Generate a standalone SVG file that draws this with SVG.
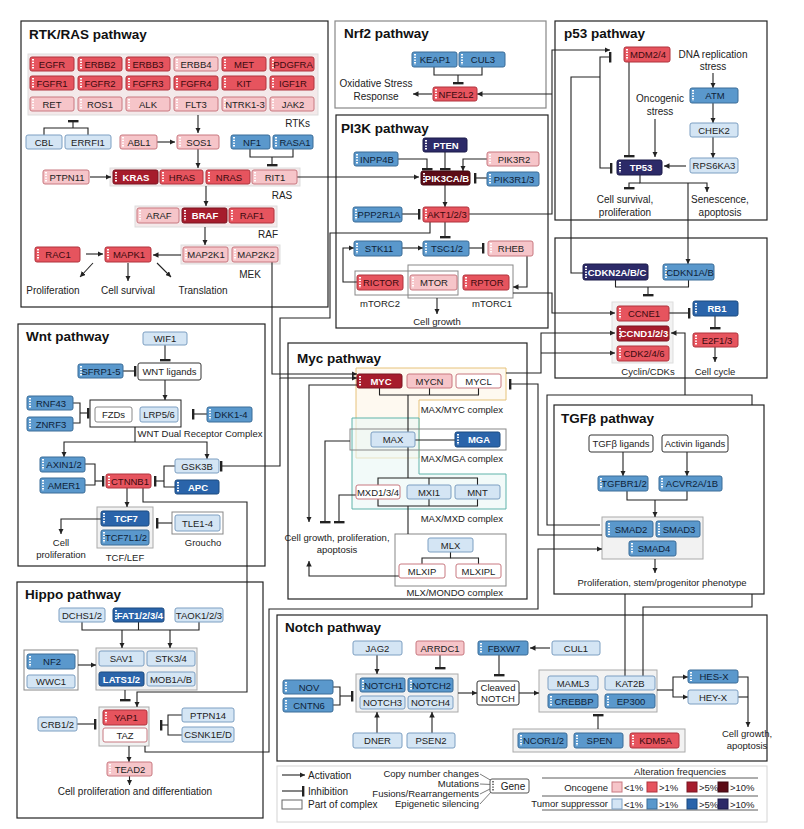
<svg xmlns="http://www.w3.org/2000/svg" width="804" height="829" viewBox="0 0 804 829">
<defs>
<style>
text{font-family:"Liberation Sans",Arial,sans-serif;font-size:9.5px;fill:#222;text-anchor:middle}
.t{font-size:13.5px;font-weight:bold;text-anchor:start;fill:#111}
.l{font-size:10px}
.st{text-anchor:start}
.en{text-anchor:end}
.pn{fill:#fff;stroke:#222;stroke-width:1.2}
.g rect{rx:2px}
.o1 rect{fill:#f6c5c9;stroke:#c87880}
.o2 rect{fill:#e6545e;stroke:#b0333c}
.o2 text{fill:#3b0a0e}
.o3 rect{fill:#a61c2c;stroke:#7a1420}
.o4 rect{fill:#5c0b16;stroke:#3e0810}
.o3 text,.o4 text,.t3 text,.t4 text{fill:#fff;font-weight:bold}
.t1 rect{fill:#d4e5f4;stroke:#7d9fc2}
.t2 rect{fill:#5a98cc;stroke:#3a6c98}
.t2 text{fill:#0e2238}
.t3 rect{fill:#2a64aa;stroke:#1b4a80}
.t4 rect{fill:#2c2a68;stroke:#1b1a48}
.w rect{fill:#fff;stroke:#c87880}
.c rect{fill:#fff;stroke:#333}
.s{stroke:#fff;stroke-width:2;stroke-dasharray:1.4 1.3;fill:none}
.cn path{fill:none;stroke:#222;stroke-width:1.1}
.a{marker-end:url(#ar)}
.i{marker-end:url(#br)}
.bx{fill:#f2f2f2;stroke:#aaa}
.bg{fill:#f4e9ea;stroke:#ddd}
.ol{fill:none;stroke:#888}
</style>
<marker id="ar" viewBox="0 0 10 10" refX="10" refY="5" markerWidth="5.5" markerHeight="5.5" markerUnits="userSpaceOnUse" orient="auto"><path d="M0,0L10,5L0,10z" fill="#222"/></marker>
<marker id="br" viewBox="0 0 3 12" refX="1.5" refY="6" markerWidth="3" markerHeight="11" markerUnits="userSpaceOnUse" orient="auto"><rect width="3" height="12" fill="#222"/></marker>
</defs>
<rect width="804" height="829" fill="#fff"/>

<g id="panels">
<rect class="pn" x="21" y="21" width="307" height="286"/>
<rect class="pn" x="335" y="21" width="211" height="87" style="stroke:#888"/>
<rect class="pn" x="336" y="115" width="212" height="213"/>
<rect class="pn" x="555" y="21" width="212" height="199"/>
<rect class="pn" x="555" y="238" width="212" height="140"/>
<rect class="pn" x="18" y="324" width="247" height="242"/>
<rect class="pn" x="288" y="343" width="239" height="256"/>
<rect class="pn" x="554" y="405" width="210" height="189"/>
<rect class="pn" x="17" y="582" width="246" height="236"/>
<rect class="pn" x="277" y="615" width="490" height="146"/>
<rect x="277" y="766" width="490" height="56" fill="none" stroke="#d4d4d4"/>
<text class="t" x="29" y="39">RTK/RAS pathway</text>
<text class="t" x="344" y="38">Nrf2 pathway</text>
<text class="t" x="341" y="133">PI3K pathway</text>
<text class="t" x="564" y="38">p53 pathway</text>
<text class="t" x="26" y="341">Wnt pathway</text>
<text class="t" x="297" y="363">Myc pathway</text>
<text class="t" x="561" y="423">TGFβ pathway</text>
<text class="t" x="25" y="599">Hippo pathway</text>
<text class="t" x="285" y="632">Notch pathway</text>
</g>

<g id="complexes">
<rect class="bg" x="28" y="54" width="290" height="61"/>
<rect class="bg" x="110" y="168" width="190" height="18"/>
<rect class="bg" x="135" y="206" width="142" height="21"/>
<rect class="bg" x="181" y="245" width="99" height="19"/>
<rect class="ol" x="355" y="271" width="103" height="24"/>
<rect class="ol" x="408" y="265" width="105" height="33"/>
<rect class="bx" x="612" y="302" width="61" height="61" style="stroke:#ddd"/>
<rect x="90" y="400" width="91" height="27" fill="none" stroke="#222"/>
<rect class="bx" x="97" y="507" width="56" height="41"/>
<rect class="ol" x="172" y="512" width="51" height="22"/>
<path d="M356,368H506V400H419V458H356Z" fill="#fdf5e6" fill-opacity="0.6" stroke="#e6c27a"/>
<path d="M352,418H419V474H506V509H352Z" fill="#eaf6f5" fill-opacity="0.6" stroke="#5fb3aa"/>
<rect class="ol" x="350" y="429" width="156" height="21"/>
<rect class="ol" x="395" y="534" width="111" height="52"/>
<rect class="bx" x="602" y="517" width="101" height="42"/>
<rect class="ol" x="24" y="650" width="54" height="40"/>
<rect class="bx" x="96" y="648" width="101" height="42"/>
<rect class="bx" x="99" y="707" width="50" height="39"/>
<rect class="bx" x="356" y="674" width="102" height="38"/>
<rect class="bx" x="539" y="670" width="118" height="42"/>
<rect class="bx" x="513" y="729" width="172" height="23"/>
</g>

<g id="connectors" class="cn">
<path d="M44,135V128H88V135"/><path class="i" d="M73,128V121"/>
<path class="a" d="M198,115V133"/>
<path class="a" d="M157,142H175"/>
<path d="M250,149V157H293V149"/><path class="i" d="M272,157V165"/>
<path class="a" d="M198,149V168"/>
<path class="a" d="M90,177H111"/>
<path class="a" d="M206,186V206"/>
<path class="a" d="M205,227V245"/>
<path class="a" d="M181,255H153"/>
<path class="a" d="M86,254H103"/>
<path class="a" d="M93,263L80,277"/><path class="a" d="M128,263V281"/><path class="a" d="M157,263L171,277"/>
<path class="a" d="M297,177H419"/>
<path d="M434,67V75H482V67"/><path class="i" d="M458,75V83"/>
<path class="a" d="M432,94H413"/>
<path class="i" d="M398,159H427V169"/>
<path class="i" d="M445,152V169"/>
<path class="a" d="M487,159H463V171"/>
<path class="i" d="M487,178H475"/>
<path class="a" d="M445,185V207"/>
<path class="i" d="M402,214H419"/>
<path class="i" d="M445,222V237"/>
<path class="a" d="M402,248H423"/>
<path class="i" d="M469,248H483"/>
<path class="a" d="M527,256V287H513"/>
<path class="a" d="M357,282H343V248H354"/>
<path class="a" d="M437,298V314"/>
<path class="a" d="M469,214H552V50H610"/>
<path class="a" d="M552,94H477"/>
<path class="a" d="M430,222V233H330V318H280V378H357"/>
<path class="i" d="M280,378V466H221"/>
<path class="a" d="M272,262V374H357"/>
<path class="a" d="M713,73V88"/>
<path class="a" d="M713,103V123"/>
<path class="a" d="M713,137V158"/>
<path class="a" d="M655,119V157"/>
<path class="i" d="M629,62V156"/>
<path class="a" d="M686,166H664"/>
<path d="M583,273H571V77H600"/>
<path class="i" d="M600,77V57H610"/>
<path class="i" d="M600,77V168H611"/>
<path class="a" d="M640,175V183H707V192"/>
<path class="i" d="M640,183H629V188"/>
<path class="a" d="M688,183V264"/>
<path d="M615.5,280V287H688.5V280"/><path class="i" d="M648,287V295"/>
<path class="i" d="M669,313H689"/>
<path class="i" d="M715,316V328"/>
<path class="a" d="M715,347V362"/>
<path class="a" d="M513,293H552V313H615"/>
<path class="a" d="M506,373H541V333H615"/>
<path class="a" d="M541,353H615"/>
<path class="a" d="M685,395V333H671"/>
<path class="i" d="M165,345V360"/>
<path class="i" d="M123,371H135"/>
<path class="a" d="M165,380V400"/>
<path d="M73,403H80V423H73"/><path class="i" d="M80,413H88"/>
<path class="i" d="M207,414H193"/>
<path d="M135,427V442"/><path class="a" d="M135,442H64V457"/><path class="a" d="M135,442H207V459"/>
<path d="M85,464H95V485H85"/><path class="i" d="M95,481H103"/>
<path d="M175,466H164V487H175"/><path class="i" d="M164,481H155"/>
<path class="a" d="M127,488V507"/>
<path class="i" d="M172,523H157"/>
<path class="a" d="M101,519H61V534"/>
<path class="a" d="M143,488V502H247V692H137V707"/>
<path d="M379.5,388V395H478.5V388"/><path d="M429.5,388V395"/><path d="M408,395V432"/>
<path d="M408,447V478"/><path d="M378,485V478H477.5V485"/><path d="M429,478V485"/>
<path d="M378,499V506H477.5V499"/><path d="M429,499V506"/><path d="M408,506V534"/>
<path d="M450.5,552V558H422V564"/><path d="M450.5,558H478.5V564"/>
<path d="M415,440H455"/>
<path class="a" d="M357,385H309V522"/>
<path class="i" d="M350,441H325V522"/>
<path class="i" d="M356,495H339V522"/>
<path class="a" d="M399,576H309V561"/>
<path class="i" d="M602,535H538V384H510"/>
<path class="a" d="M145,746V752H269V609H538V549H602"/>
<path d="M600,525H547V395H752V405"/>
<path d="M643,676V607H752V594"/>
<path d="M625,676V594"/>
<path d="M82,622V630H199V622"/><path d="M138.5,622V630"/>
<path class="a" d="M122,630V648"/><path class="a" d="M170,630V648"/>
<path class="a" d="M78,665H96"/>
<path class="i" d="M125,690V700"/>
<path class="i" d="M77,724H95"/>
<path d="M182,715H168V735H182"/><path class="i" d="M168,725H161"/>
<path class="a" d="M129,746V762"/>
<path class="a" d="M129.5,776V785"/>
<path class="a" d="M623,452V476"/><path class="a" d="M687,452V476"/>
<path d="M627,491V500H687V491"/><path class="a" d="M655,500V517"/>
<path class="a" d="M655,559V573"/>
<path class="a" d="M550,648H530"/>
<path class="a" d="M377,655V674"/>
<path class="i" d="M440,655V668"/>
<path class="i" d="M499,655V675"/>
<path d="M333,687H340V705H333"/><path class="i" d="M340,696H352"/>
<path class="a" d="M377,733V712"/><path class="a" d="M432,733V712"/>
<path class="a" d="M458,693H477"/>
<path class="a" d="M519,693H539"/>
<path d="M657,690H673"/><path class="a" d="M673,690V677H688"/><path class="a" d="M673,690V697H688"/>
<path class="a" d="M738,677H748V727"/><path d="M738,697H748"/>
<path class="i" d="M598,729V715"/>
</g>

<g id="labels">
<text class="l en" x="310" y="127">RTKs</text>
<text class="l" x="282" y="199">RAS</text>
<text class="l" x="268" y="238">RAF</text>
<text class="l" x="250" y="278">MEK</text>
<text class="l" x="53" y="294">Proliferation</text>
<text class="l" x="128" y="294">Cell survival</text>
<text class="l" x="203" y="294">Translation</text>
<text class="l" x="376" y="87">Oxidative Stress</text>
<text class="l" x="376" y="100">Response</text>
<text x="380" y="307">mTORC2</text>
<text x="492" y="307">mTORC1</text>
<text x="437" y="325">Cell growth</text>
<text class="l" x="713" y="58">DNA replication</text>
<text class="l" x="713" y="70">stress</text>
<text class="l" x="660" y="102">Oncogenic</text>
<text class="l" x="660" y="115">stress</text>
<text class="l" x="625" y="203">Cell survival,</text>
<text class="l" x="625" y="216">proliferation</text>
<text class="l" x="720" y="203">Senescence,</text>
<text class="l" x="720" y="216">apoptosis</text>
<text x="648" y="375">Cyclin/CDKs</text>
<text x="715" y="375">Cell cycle</text>
<text x="200" y="437">WNT Dual Receptor Complex</text>
<text x="125" y="561">TCF/LEF</text>
<text x="203" y="546">Groucho</text>
<text x="61" y="546">Cell</text>
<text x="61" y="558">proliferation</text>
<text class="en" x="503" y="413">MAX/MYC complex</text>
<text class="en" x="503" y="462">MAX/MGA complex</text>
<text class="en" x="503" y="522">MAX/MXD complex</text>
<text class="en" x="503" y="596">MLX/MONDO complex</text>
<text x="337" y="541">Cell growth, proliferation,</text>
<text x="337" y="553">apoptosis</text>
<text x="662" y="586">Proliferation, stem/progenitor phenotype</text>
<text class="l" x="135" y="795">Cell proliferation and differentiation</text>
<text x="747" y="737">Cell growth,</text>
<text x="747" y="749">apoptosis</text>
</g>

<g id="n-EGFR" class="g o2"><rect x="30" y="57" width="44" height="14"/><path class="s" d="M33,59v10"/><text x="52" y="67.5">EGFR</text></g>
<g id="n-ERBB2" class="g o2"><rect x="78" y="57" width="44" height="14"/><path class="s" d="M81,59v10"/><text x="100" y="67.5">ERBB2</text></g>
<g id="n-ERBB3" class="g o2"><rect x="126" y="57" width="44" height="14"/><path class="s" d="M129,59v10"/><text x="148" y="67.5">ERBB3</text></g>
<g id="n-ERBB4" class="g o1"><rect x="174" y="57" width="44" height="14"/><path class="s" d="M177,59v10"/><text x="196" y="67.5">ERBB4</text></g>
<g id="n-MET" class="g o2"><rect x="222" y="57" width="44" height="14"/><path class="s" d="M225,59v10"/><text x="244" y="67.5">MET</text></g>
<g id="n-PDGFRA" class="g o2"><rect x="270" y="57" width="44" height="14"/><path class="s" d="M273,59v10"/><text x="293" y="67.5">PDGFRA</text></g>
<g id="n-FGFR1" class="g o2"><rect x="30" y="76" width="44" height="14"/><path class="s" d="M33,78v10"/><text x="52" y="86.5">FGFR1</text></g>
<g id="n-FGFR2" class="g o2"><rect x="78" y="76" width="44" height="14"/><path class="s" d="M81,78v10"/><text x="100" y="86.5">FGFR2</text></g>
<g id="n-FGFR3" class="g o2"><rect x="126" y="76" width="44" height="14"/><path class="s" d="M129,78v10"/><text x="148" y="86.5">FGFR3</text></g>
<g id="n-FGFR4" class="g o2"><rect x="174" y="76" width="44" height="14"/><path class="s" d="M177,78v10"/><text x="196" y="86.5">FGFR4</text></g>
<g id="n-KIT" class="g o2"><rect x="222" y="76" width="44" height="14"/><path class="s" d="M225,78v10"/><text x="244" y="86.5">KIT</text></g>
<g id="n-IGF1R" class="g o2"><rect x="270" y="76" width="44" height="14"/><path class="s" d="M273,78v10"/><text x="293" y="86.5">IGF1R</text></g>
<g id="n-RET" class="g o1"><rect x="30" y="97" width="44" height="14"/><path class="s" d="M33,99v10"/><text x="52" y="107.5">RET</text></g>
<g id="n-ROS1" class="g o1"><rect x="78" y="97" width="44" height="14"/><path class="s" d="M81,99v10"/><text x="100" y="107.5">ROS1</text></g>
<g id="n-ALK" class="g o1"><rect x="126" y="97" width="44" height="14"/><path class="s" d="M129,99v10"/><text x="148" y="107.5">ALK</text></g>
<g id="n-FLT3" class="g o1"><rect x="174" y="97" width="44" height="14"/><path class="s" d="M177,99v10"/><text x="196" y="107.5">FLT3</text></g>
<g id="n-NTRK" class="g o1"><rect x="222" y="97" width="44" height="14"/><path class="s" d="M225,99v10"/><text x="245" y="107.5">NTRK1-3</text></g>
<g id="n-JAK2" class="g o1"><rect x="270" y="97" width="44" height="14"/><path class="s" d="M273,99v10"/><text x="293" y="107.5">JAK2</text></g>
<g id="n-CBL" class="g t1"><rect x="26" y="135" width="36" height="14"/><text x="44" y="145.5">CBL</text></g>
<g id="n-ERRFI1" class="g t1"><rect x="65" y="135" width="46" height="14"/><text x="88" y="145.5">ERRFI1</text></g>
<g id="n-ABL1" class="g o1"><rect x="120" y="135" width="37" height="14"/><path class="s" d="M123,137v10"/><text x="139" y="145.5">ABL1</text></g>
<g id="n-SOS1" class="g o1"><rect x="177" y="135" width="42" height="14"/><path class="s" d="M180,137v10"/><text x="199" y="145.5">SOS1</text></g>
<g id="n-NF1" class="g t2"><rect x="231" y="135" width="39" height="14"/><path class="s" d="M234,137v10"/><text x="252" y="145.5">NF1</text></g>
<g id="n-RASA1" class="g t2"><rect x="273" y="135" width="40" height="14"/><path class="s" d="M276,137v10"/><text x="295" y="145.5">RASA1</text></g>
<g id="n-PTPN11" class="g o1"><rect x="43" y="170" width="46" height="14"/><path class="s" d="M46,172v10"/><text x="67" y="180.5">PTPN11</text></g>
<g id="n-KRAS" class="g o3"><rect x="113" y="170" width="45" height="14"/><path class="s" d="M116,172v10"/><text x="136" y="180.5">KRAS</text></g>
<g id="n-HRAS" class="g o2"><rect x="160" y="170" width="43" height="14"/><path class="s" d="M163,172v10"/><text x="182" y="180.5">HRAS</text></g>
<g id="n-NRAS" class="g o2"><rect x="206" y="170" width="44" height="14"/><path class="s" d="M209,172v10"/><text x="229" y="180.5">NRAS</text></g>
<g id="n-RIT1" class="g o1"><rect x="252" y="170" width="45" height="14"/><path class="s" d="M255,172v10"/><text x="275" y="180.5">RIT1</text></g>
<g id="n-ARAF" class="g o1"><rect x="137" y="208" width="42" height="15"/><path class="s" d="M140,210v11"/><text x="159" y="219">ARAF</text></g>
<g id="n-BRAF" class="g o3"><rect x="182" y="208" width="45" height="15"/><path class="s" d="M185,210v11"/><text x="205" y="219">BRAF</text></g>
<g id="n-RAF1" class="g o2"><rect x="229" y="208" width="45" height="15"/><path class="s" d="M232,210v11"/><text x="252" y="219">RAF1</text></g>
<g id="n-MAP2K1" class="g o1"><rect x="183" y="247" width="45" height="15"/><path class="s" d="M186,249v11"/><text x="206" y="258">MAP2K1</text></g>
<g id="n-MAP2K2" class="g o1"><rect x="232" y="247" width="46" height="15"/><path class="s" d="M235,249v11"/><text x="256" y="258">MAP2K2</text></g>
<g id="n-MAPK1" class="g o2"><rect x="105" y="247" width="46" height="15"/><path class="s" d="M108,249v11"/><text x="129" y="258">MAPK1</text></g>
<g id="n-RAC1" class="g o2"><rect x="35" y="247" width="45" height="15"/><path class="s" d="M38,249v11"/><text x="58" y="258">RAC1</text></g>

<g id="n-KEAP1" class="g t2"><rect x="412" y="52" width="45" height="15"/><path class="s" d="M415,54v11"/><text x="435" y="63">KEAP1</text></g>
<g id="n-CUL3" class="g t2"><rect x="459" y="52" width="46" height="15"/><path class="s" d="M462,54v11"/><text x="483" y="63">CUL3</text></g>
<g id="n-NFE2L2" class="g o2"><rect x="433" y="87" width="44" height="14"/><path class="s" d="M436,89v10"/><text x="456" y="97.5">NFE2L2</text></g>

<g id="n-PTEN" class="g t4"><rect x="423" y="138" width="44" height="14"/><path class="s" d="M426,140v10"/><text x="446" y="148.5">PTEN</text></g>
<g id="n-INPP4B" class="g t2"><rect x="354" y="152" width="44" height="14"/><path class="s" d="M357,154v10"/><text x="377" y="162.5">INPP4B</text></g>
<g id="n-PIK3R2" class="g o1"><rect x="487" y="152" width="52" height="14"/><path class="s" d="M490,154v10"/><text x="514" y="162.5">PIK3R2</text></g>
<g id="n-PIK3CA" class="g o4"><rect x="421" y="171" width="49" height="14"/><path class="s" d="M424,173v10"/><text x="447" y="181.5">PIK3CA/B</text></g>
<g id="n-PIK3R1" class="g t2"><rect x="487" y="172" width="52" height="14"/><path class="s" d="M490,174v10"/><text x="514" y="182.5">PIK3R1/3</text></g>
<g id="n-PPP2R1A" class="g t2"><rect x="353" y="207" width="49" height="15"/><path class="s" d="M356,209v11"/><text x="379" y="218">PPP2R1A</text></g>
<g id="n-AKT" class="g o2"><rect x="423" y="207" width="46" height="15"/><path class="s" d="M426,209v11"/><text x="447" y="218">AKT1/2/3</text></g>
<g id="n-STK11" class="g t2"><rect x="354" y="241" width="48" height="15"/><path class="s" d="M357,243v11"/><text x="379" y="252">STK11</text></g>
<g id="n-TSC" class="g t2"><rect x="423" y="241" width="46" height="15"/><path class="s" d="M426,243v11"/><text x="447" y="252">TSC1/2</text></g>
<g id="n-RHEB" class="g o1"><rect x="488" y="241" width="45" height="15"/><path class="s" d="M491,243v11"/><text x="511" y="252">RHEB</text></g>
<g id="n-RICTOR" class="g o2"><rect x="357" y="275" width="46" height="15"/><path class="s" d="M360,277v11"/><text x="381" y="286">RICTOR</text></g>
<g id="n-MTOR" class="g o1"><rect x="410" y="275" width="47" height="15"/><path class="s" d="M413,277v11"/><text x="434" y="286">MTOR</text></g>
<g id="n-RPTOR" class="g o2"><rect x="463" y="275" width="46" height="15"/><path class="s" d="M466,277v11"/><text x="487" y="286">RPTOR</text></g>

<g id="n-MDM2" class="g o2"><rect x="624" y="47" width="46" height="15"/><path class="s" d="M627,49v11"/><text x="648" y="58">MDM2/4</text></g>
<g id="n-ATM" class="g t2"><rect x="690" y="88" width="48" height="15"/><path class="s" d="M693,90v11"/><text x="715" y="99">ATM</text></g>
<g id="n-CHEK2" class="g t1"><rect x="690" y="123" width="48" height="14"/><text x="714" y="133.5">CHEK2</text></g>
<g id="n-RPS6KA3" class="g t1"><rect x="690" y="158" width="48" height="15"/><text x="714" y="169">RPS6KA3</text></g>
<g id="n-TP53" class="g t4"><rect x="617" y="160" width="45" height="15"/><path class="s" d="M620,162v11"/><text x="641" y="171">TP53</text></g>

<g id="n-CDKN2A" class="g t4"><rect x="583" y="264" width="65" height="16"/><path class="s" d="M586,266v12"/><text x="617" y="275.5">CDKN2A/B/C</text></g>
<g id="n-CDKN1A" class="g t2"><rect x="663" y="264" width="51" height="16"/><path class="s" d="M666,266v12"/><text x="690" y="275.5">CDKN1A/B</text></g>
<g id="n-CCNE1" class="g o2"><rect x="617" y="306" width="52" height="15"/><path class="s" d="M620,308v11"/><text x="644" y="317">CCNE1</text></g>
<g id="n-CCND1" class="g o3"><rect x="617" y="326" width="52" height="15"/><path class="s" d="M620,328v11"/><text x="644" y="337">CCND1/2/3</text></g>
<g id="n-CDK" class="g o2"><rect x="617" y="346" width="52" height="15"/><path class="s" d="M620,348v11"/><text x="644" y="357">CDK2/4/6</text></g>
<g id="n-RB1" class="g t3"><rect x="693" y="301" width="45" height="15"/><path class="s" d="M696,303v11"/><text x="717" y="312">RB1</text></g>
<g id="n-E2F" class="g o2"><rect x="693" y="333" width="45" height="14"/><path class="s" d="M696,335v10"/><text x="717" y="343.5">E2F1/3</text></g>

<g id="n-WIF1" class="g t1"><rect x="143" y="332" width="44" height="13"/><text x="165" y="342">WIF1</text></g>
<g id="n-WNT" class="g c"><rect x="138" y="363" width="63" height="17"/><text x="169.5" y="375">WNT ligands</text></g>
<g id="n-SFRP" class="g t2"><rect x="78" y="364" width="45" height="14"/><path class="s" d="M81,366v10"/><text x="101" y="374.5">SFRP1-5</text></g>
<g id="n-FZD" class="g c"><rect x="95" y="407" width="37" height="15" style="stroke:#888"/><text x="113.5" y="418">FZDs</text></g>
<g id="n-LRP" class="g t1"><rect x="140" y="407" width="38" height="15"/><text x="159" y="418">LRP5/6</text></g>
<g id="n-RNF43" class="g t2"><rect x="27" y="396" width="46" height="14"/><path class="s" d="M30,398v10"/><text x="51" y="406.5">RNF43</text></g>
<g id="n-ZNRF3" class="g t2"><rect x="27" y="417" width="46" height="14"/><path class="s" d="M30,419v10"/><text x="51" y="427.5">ZNRF3</text></g>
<g id="n-DKK" class="g t2"><rect x="207" y="407" width="45" height="15"/><path class="s" d="M210,409v11"/><text x="231" y="418">DKK1-4</text></g>
<g id="n-AXIN" class="g t2"><rect x="40" y="457" width="45" height="15"/><path class="s" d="M43,459v11"/><text x="64" y="468">AXIN1/2</text></g>
<g id="n-AMER1" class="g t2"><rect x="40" y="478" width="45" height="15"/><path class="s" d="M43,480v11"/><text x="64" y="489">AMER1</text></g>
<g id="n-CTNNB1" class="g o2"><rect x="106" y="474" width="45" height="14"/><path class="s" d="M109,476v10"/><text x="130" y="484.5">CTNNB1</text></g>
<g id="n-GSK3B" class="g t1"><rect x="175" y="459" width="44" height="14"/><text x="197" y="469.5">GSK3B</text></g>
<g id="n-APC" class="g t3"><rect x="175" y="480" width="44" height="14"/><path class="s" d="M178,482v10"/><text x="198" y="490.5">APC</text></g>
<g id="n-TCF7" class="g t3"><rect x="101" y="511" width="48" height="15"/><path class="s" d="M104,513v11"/><text x="126" y="522">TCF7</text></g>
<g id="n-TCF7L" class="g t2"><rect x="101" y="530" width="48" height="15"/><path class="s" d="M104,532v11"/><text x="126" y="541">TCF7L1/2</text></g>
<g id="n-TLE" class="g t1"><rect x="175" y="515" width="45" height="16"/><text x="197.5" y="526.5">TLE1-4</text></g>

<g id="n-MYC" class="g o3"><rect x="357" y="374" width="45" height="14"/><path class="s" d="M360,376v10"/><text x="381" y="384.5">MYC</text></g>
<g id="n-MYCN" class="g o1"><rect x="407" y="374" width="45" height="14"/><text x="429.5" y="384.5">MYCN</text></g>
<g id="n-MYCL" class="g w"><rect x="456" y="374" width="45" height="14"/><text x="478.5" y="384.5">MYCL</text></g>
<g id="n-MAX" class="g t1"><rect x="371" y="432" width="44" height="15"/><text x="393" y="443">MAX</text></g>
<g id="n-MGA" class="g t3"><rect x="455" y="432" width="45" height="15"/><path class="s" d="M458,434v11"/><text x="479" y="443">MGA</text></g>
<g id="n-MXD" class="g w"><rect x="356" y="485" width="44" height="14"/><text x="378" y="495.5">MXD1/3/4</text></g>
<g id="n-MXI1" class="g t1"><rect x="407" y="485" width="44" height="14"/><text x="429" y="495.5">MXI1</text></g>
<g id="n-MNT" class="g t1"><rect x="455" y="485" width="45" height="14"/><text x="477.5" y="495.5">MNT</text></g>
<g id="n-MLX" class="g t1"><rect x="428" y="538" width="45" height="14"/><text x="450.5" y="548.5">MLX</text></g>
<g id="n-MLXIP" class="g w"><rect x="399" y="564" width="46" height="14"/><text x="422" y="574.5">MLXIP</text></g>
<g id="n-MLXIPL" class="g w"><rect x="456" y="564" width="45" height="14"/><text x="478.5" y="574.5">MLXIPL</text></g>

<g id="n-TGFL" class="g c"><rect x="589" y="435" width="64" height="17"/><text x="621" y="447">TGFβ ligands</text></g>
<g id="n-ACTL" class="g c"><rect x="662" y="435" width="66" height="17"/><text x="695" y="447">Activin ligands</text></g>
<g id="n-TGFBR" class="g t2"><rect x="598" y="476" width="50" height="15"/><path class="s" d="M601,478v11"/><text x="624" y="487">TGFBR1/2</text></g>
<g id="n-ACVR" class="g t2"><rect x="659" y="476" width="63" height="15"/><path class="s" d="M662,478v11"/><text x="692" y="487">ACVR2A/1B</text></g>
<g id="n-SMAD2" class="g t2"><rect x="606" y="521" width="47" height="16"/><path class="s" d="M609,523v12"/><text x="631" y="533">SMAD2</text></g>
<g id="n-SMAD3" class="g t2"><rect x="656" y="521" width="44" height="16"/><path class="s" d="M659,523v12"/><text x="679" y="533">SMAD3</text></g>
<g id="n-SMAD4" class="g t2"><rect x="629" y="541" width="47" height="15"/><path class="s" d="M632,543v11"/><text x="654" y="552">SMAD4</text></g>

<g id="n-DCHS" class="g t1"><rect x="59" y="608" width="46" height="14"/><text x="82" y="618.5">DCHS1/2</text></g>
<g id="n-FAT" class="g t3"><rect x="113" y="608" width="51" height="14"/><path class="s" d="M116,610v10"/><text x="140" y="618.5">FAT1/2/3/4</text></g>
<g id="n-TAOK" class="g t1"><rect x="175" y="608" width="48" height="14"/><text x="199" y="618.5">TAOK1/2/3</text></g>
<g id="n-SAV1" class="g t1"><rect x="99" y="651" width="45" height="15"/><text x="121.5" y="662">SAV1</text></g>
<g id="n-STK3" class="g t1"><rect x="147" y="651" width="48" height="15"/><text x="171" y="662">STK3/4</text></g>
<g id="n-LATS" class="g t3"><rect x="99" y="672" width="45" height="14"/><text x="121.5" y="682.5">LATS1/2</text></g>
<g id="n-MOB1" class="g t1"><rect x="147" y="672" width="48" height="14"/><text x="171" y="682.5">MOB1A/B</text></g>
<g id="n-NF2" class="g t2"><rect x="27" y="654" width="48" height="15"/><path class="s" d="M30,656v11"/><text x="52" y="665">NF2</text></g>
<g id="n-WWC1" class="g t1"><rect x="27" y="675" width="48" height="13"/><text x="51" y="685">WWC1</text></g>
<g id="n-YAP1" class="g o2"><rect x="103" y="710" width="44" height="15"/><path class="s" d="M106,712v11"/><text x="126" y="721">YAP1</text></g>
<g id="n-TAZ" class="g w"><rect x="103" y="728" width="44" height="14"/><text x="125" y="738.5">TAZ</text></g>
<g id="n-TEAD2" class="g o1"><rect x="107" y="762" width="45" height="14"/><path class="s" d="M110,764v10"/><text x="130" y="772.5">TEAD2</text></g>
<g id="n-CRB" class="g t1"><rect x="38" y="717" width="39" height="14"/><text x="57.5" y="727.5">CRB1/2</text></g>
<g id="n-PTPN14" class="g t1"><rect x="182" y="708" width="52" height="14"/><text x="208" y="718.5">PTPN14</text></g>
<g id="n-CSNK" class="g t1"><rect x="182" y="727" width="52" height="15"/><text x="208" y="738">CSNK1E/D</text></g>

<g id="n-JAG2" class="g t1"><rect x="353" y="641" width="49" height="14"/><text x="377.5" y="651.5">JAG2</text></g>
<g id="n-ARRDC1" class="g o1"><rect x="416" y="641" width="48" height="14"/><text x="440" y="651.5">ARRDC1</text></g>
<g id="n-FBXW7" class="g t2"><rect x="478" y="641" width="50" height="14"/><path class="s" d="M481,643v10"/><text x="504" y="651.5">FBXW7</text></g>
<g id="n-CUL1" class="g t1"><rect x="552" y="641" width="48" height="14"/><text x="576" y="651.5">CUL1</text></g>
<g id="n-NOTCH1" class="g t2"><rect x="360" y="678" width="45" height="14"/><path class="s" d="M363,680v10"/><text x="383.5" y="688.5">NOTCH1</text></g>
<g id="n-NOTCH2" class="g t2"><rect x="408" y="678" width="45" height="14"/><path class="s" d="M411,680v10"/><text x="431.5" y="688.5">NOTCH2</text></g>
<g id="n-NOTCH3" class="g t1"><rect x="360" y="696" width="45" height="13"/><text x="382.5" y="706">NOTCH3</text></g>
<g id="n-NOTCH4" class="g t1"><rect x="408" y="696" width="45" height="13"/><text x="430.5" y="706">NOTCH4</text></g>
<g id="n-NOV" class="g t2"><rect x="283" y="680" width="50" height="14"/><path class="s" d="M286,682v10"/><text x="309" y="690.5">NOV</text></g>
<g id="n-CNTN6" class="g t2"><rect x="283" y="698" width="50" height="14"/><path class="s" d="M286,700v10"/><text x="309" y="708.5">CNTN6</text></g>
<g id="n-DNER" class="g t1"><rect x="353" y="733" width="49" height="15"/><text x="377.5" y="744">DNER</text></g>
<g id="n-PSEN2" class="g t1"><rect x="407" y="733" width="48" height="15"/><text x="431" y="744">PSEN2</text></g>
<g id="n-CLEAVED" class="g c"><rect x="477" y="681" width="42" height="24"/><text x="498" y="691">Cleaved</text><text x="498" y="702">NOTCH</text></g>
<g id="n-MAML3" class="g t1"><rect x="548" y="676" width="50" height="14"/><text x="573" y="686.5">MAML3</text></g>
<g id="n-KAT2B" class="g t1"><rect x="605" y="676" width="50" height="14"/><text x="630" y="686.5">KAT2B</text></g>
<g id="n-CREBBP" class="g t2"><rect x="548" y="694" width="50" height="14"/><path class="s" d="M551,696v10"/><text x="574" y="704.5">CREBBP</text></g>
<g id="n-EP300" class="g t2"><rect x="605" y="694" width="50" height="14"/><path class="s" d="M608,696v10"/><text x="631" y="704.5">EP300</text></g>
<g id="n-HES" class="g t2"><rect x="688" y="670" width="50" height="13"/><path class="s" d="M691,672v9"/><text x="714" y="680">HES-X</text></g>
<g id="n-HEY" class="g t1"><rect x="688" y="690" width="50" height="14"/><text x="713" y="700.5">HEY-X</text></g>
<g id="n-NCOR" class="g t2"><rect x="518" y="733" width="49" height="15"/><path class="s" d="M521,735v11"/><text x="543.5" y="744">NCOR1/2</text></g>
<g id="n-SPEN" class="g t2"><rect x="574" y="733" width="49" height="15"/><path class="s" d="M577,735v11"/><text x="599.5" y="744">SPEN</text></g>
<g id="n-KDM5A" class="g o2"><rect x="630" y="733" width="49" height="15"/><path class="s" d="M633,735v11"/><text x="655.5" y="744">KDM5A</text></g>

<g id="legend">
<g class="cn"><path class="a" d="M282,775H305"/><path class="i" d="M282,791H303"/></g>
<rect x="282" y="800" width="20" height="9" fill="#fff" stroke="#666"/>
<text class="l st" x="308" y="779">Activation</text>
<text class="l st" x="308" y="795">Inhibition</text>
<text class="l st" x="308" y="808">Part of complex</text>
<text class="en" x="479" y="777">Copy number changes</text>
<text class="en" x="479" y="787">Mutations</text>
<text class="en" x="479" y="797">Fusions/Rearrangements</text>
<text class="en" x="479" y="807">Epigenetic silencing</text>
<path d="M480,774L492,781M480,784L492,784.5M480,794L492,788M480,804L492,791" stroke="#444" stroke-width="0.7" fill="none"/>
<g class="g c"><rect x="490" y="779" width="39" height="14" style="stroke:#555"/><path d="M493,781v10" stroke="#777" stroke-width="2" stroke-dasharray="1.4 1.3"/><text class="l" x="513" y="789.5">Gene</text></g>
<text x="680" y="775">Alteration frequencies</text>
<path d="M542,778H758M542,796H758M542,810H758" stroke="#333" stroke-width="0.8"/>
<text class="en" x="608" y="791">Oncogene</text>
<text class="en" x="608" y="807">Tumor suppressor</text>
<rect x="612" y="782" width="10" height="10" fill="#f6c5c9" stroke="#c87880"/><text class="st" x="624" y="791">&lt;1%</text>
<rect x="647" y="782" width="10" height="10" fill="#e6545e" stroke="#b0333c"/><text class="st" x="659" y="791">&gt;1%</text>
<rect x="687" y="782" width="10" height="10" fill="#a61c2c" stroke="#7a1420"/><text class="st" x="699" y="791">&gt;5%</text>
<rect x="718" y="782" width="10" height="10" fill="#5c0b16" stroke="#3e0810"/><text class="st" x="730" y="791">&gt;10%</text>
<rect x="612" y="799" width="10" height="10" fill="#d4e5f4" stroke="#7d9fc2"/><text class="st" x="624" y="808">&lt;1%</text>
<rect x="647" y="799" width="10" height="10" fill="#5a98cc" stroke="#3a6c98"/><text class="st" x="659" y="808">&gt;1%</text>
<rect x="687" y="799" width="10" height="10" fill="#2a64aa" stroke="#1b4a80"/><text class="st" x="699" y="808">&gt;5%</text>
<rect x="718" y="799" width="10" height="10" fill="#2c2a68" stroke="#1b1a48"/><text class="st" x="730" y="808">&gt;10%</text>
</g>
</svg>
